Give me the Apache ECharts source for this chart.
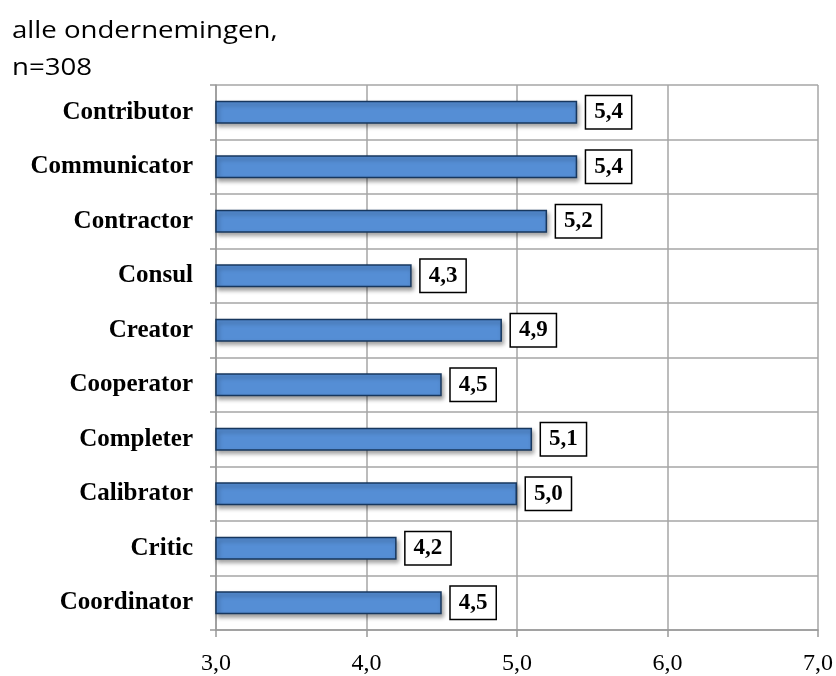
<!DOCTYPE html>
<html>
<head>
<meta charset="utf-8">
<script src="https://cdn.jsdelivr.net/npm/echarts@6/dist/echarts.min.js"></script>
<style>
html,body{margin:0;padding:0;background:#fff;}
#chart{width:836px;height:676px;}
</style>
</head>
<body>
<div id="chart"></div>
<script>
const titleLines = ["alle ondernemingen,", "n=308"];
const categories = ["Contributor","Communicator","Contractor","Consul","Creator","Cooperator","Completer","Calibrator","Critic","Coordinator"];
const values = [5.4, 5.4, 5.2, 4.3, 4.9, 4.5, 5.1, 5.0, 4.2, 4.5];
const axisMin = 3, axisMax = 7, axisStep = 1;

const chart = echarts.init(document.getElementById('chart'));
const titleStyle = {fontFamily: 'Open Sans', fontSize: 24, fill: '#000', verticalAlign: 'middle', align: 'left'};
chart.setOption({
  animation: false,
  backgroundColor: '#ffffff',
  graphic: [
    {type: 'text', x: 12, y: 31, scaleX: 1.15, style: Object.assign({text: titleLines[0]}, titleStyle)},
    {type: 'text', x: 12, y: 68, scaleX: 1.15, style: Object.assign({text: titleLines[1]}, titleStyle)}
  ],
  grid: {left: 216, right: 18, top: 85, bottom: 44, containLabel: false},
  xAxis: {
    type: 'value', min: axisMin, max: axisMax, interval: axisStep,
    axisLine: {show: true, lineStyle: {color: '#999', width: 1.5}},
    axisTick: {show: true, length: 7, lineStyle: {color: '#999', width: 1.5}},
    splitLine: {show: true, lineStyle: {color: '#a6a6a6', width: 1.5}},
    axisLabel: {
      margin: 22,
      fontFamily: 'Liberation Serif', fontSize: 24, color: '#000',
      formatter: v => v.toFixed(1).replace('.', ',')
    }
  },
  yAxis: {
    type: 'category', data: categories, inverse: true,
    axisLine: {show: true, lineStyle: {color: '#999', width: 1.5}},
    axisTick: {show: true, length: 6, lineStyle: {color: '#999', width: 1.5}},
    splitLine: {show: true, lineStyle: {color: '#a6a6a6', width: 1.5}},
    axisLabel: {
      margin: 23,
      fontFamily: 'Liberation Serif', fontSize: 25, fontWeight: 'bold', color: '#000'
    }
  },
  series: [{
    type: 'bar',
    data: values,
    barWidth: 23,
    itemStyle: {
      color: '#558ed5', borderColor: '#17375e', borderWidth: 1.5,
      shadowBlur: 4, shadowOffsetX: 2, shadowOffsetY: 3, shadowColor: 'rgba(0,0,0,0.35)'
    },
    label: {
      show: true, position: 'right', distance: 9,
      fontFamily: 'Liberation Serif', fontSize: 23, fontWeight: 'bold', color: '#000',
      lineHeight: 24,
      backgroundColor: '#fff', borderColor: '#000', borderWidth: 1.5,
      padding: [5, 8, 3, 8],
      formatter: p => p.value.toFixed(1).replace('.', ',')
    }
  }]
});
</script>
</body>
</html>
